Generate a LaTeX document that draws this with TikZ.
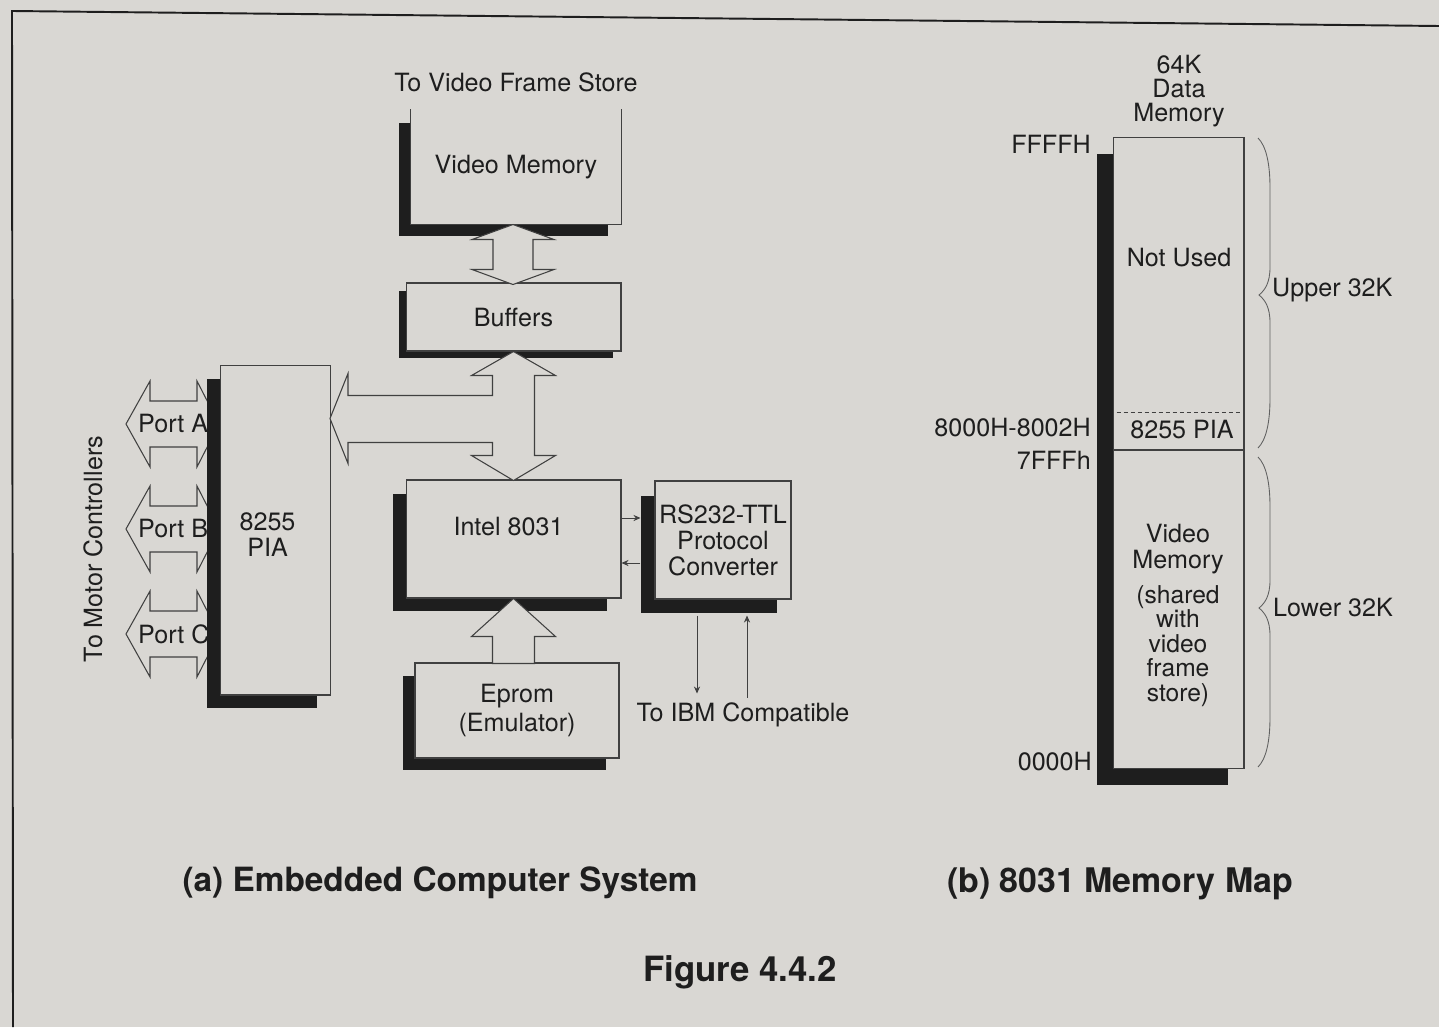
\documentclass[tikz,border=0pt]{standalone}
\usepackage{fontspec}
\setmainfont{TeX Gyre Heros}
\usetikzlibrary{arrows.meta,shadows}
\definecolor{paper}{RGB}{217,215,211}
\definecolor{ink}{RGB}{30,30,30}
\tikzset{
  box/.style={draw=ink!85,line width=0.6pt,fill=paper,inner sep=0pt,align=center,
    drop shadow={shadow xshift=-#1,shadow yshift=-#1,fill=ink,opacity=1}},
  bus/.style={draw=ink!85,line width=0.6pt,fill=paper,line join=miter},
  sig/.style={draw=ink!85,line width=0.5pt,-{Stealth[length=4pt,width=3.5pt]}},
  brace/.style={draw=ink!70,line width=0.5pt},
}

\begin{document}
\begin{tikzpicture}[x=0.02cm,y=-0.02cm,every node/.style={font=\fontsize{14.3}{14.8}\selectfont,text=ink,align=center}]
\fill[paper] (0,0) rectangle (1439,1027);
\useasboundingbox (0,0) rectangle (1439,1027);
\draw[ink,line width=1.1pt] (13,1027) -- (12,11) -- (1439,26);

% (a) ports to the motor controllers, under the PIA
\coordinate (piaw) at (220,530);
\foreach \dy/\p in {-106/A,-1/B,104/C}{
  \draw[bus] ([shift={(-1,\dy)}]piaw) -- ++(-22,43) -- ++(0,-20) -- ++(-47,0) -- ++(0,20) -- ++(-24,-43)
    -- ++(24,-43) -- ++(0,20) -- ++(47,0) -- ++(0,-20) -- cycle;
  \node[anchor=west] (port\p) at ([shift={(-88,\dy)}]piaw) {Port \p};
}
\node[rotate=90] (motor) at (93,549) {To Motor Controllers};
\node[box=0.27cm,minimum width=2.2cm,minimum height=6.6cm,anchor=west] (pia) at (piaw) {};
\node (pialbl) at ([shift={(-8,5)}]pia.center) {8255\\PIA};

% (a) boxes
\node (vfs) at (516,82) {To Video Frame Store};
\node[box=0.25cm,draw=none,minimum width=4.2cm,minimum height=2.28cm] (vm) at (516,167) {Video Memory};
\draw[ink!85,line width=0.6pt] (vm.north west) -- (vm.south west) -- (vm.south east) -- (vm.north east);
\node[box=0.15cm,minimum width=4.3cm,minimum height=1.36cm] (buf) at (513.5,317) {Buffers};
\node[box=0.27cm,minimum width=4.3cm,minimum height=2.36cm] (cpu) at (513.5,539) {};
\node (cpulab) at ([shift={(-5,-12)}]cpu.center) {Intel 8031};
\node[box=0.29cm,minimum width=2.72cm,minimum height=2.36cm] (conv) at (723,540) {RS232-TTL\\Protocol\\Converter};
\node[box=0.25cm,minimum width=4.08cm,minimum height=1.9cm,font=\fontsize{14.3}{16.4}\selectfont] (eprom) at (517,710.5) {Eprom\\(Emulator)};

% (a) buses
\draw[bus] ([xshift=-0.06cm]vm.south) -- ++(41,15) -- ++(-21,0) -- ++(0,30) -- ++(21,0) -- ++(-41,15)
  -- ++(-41,-15) -- ++(21,0) -- ++(0,-30) -- ++(-21,0) -- cycle;
\draw[bus] (buf.south) -- ++(42,24) -- ++(-21,0) -- ++(0,80) -- ++(21,0) -- ++(-42,25) -- ++(-42,-25)
  -- ++(21,0) -- ++(0,-13) -- ++(-144.5,0) -- ++(0,21) -- ++(-18,-45) -- ++(18,-45) -- ++(0,22)
  -- ++(144.5,0) -- ++(0,-20) -- ++(-21,0) -- cycle;
\draw[bus] (cpu.south) -- ++(42,38) -- ++(-21,0) -- ++(0,27) -- ++(-42,0) -- ++(0,-27) -- ++(-21,0) -- cycle;

% (a) serial lines
\draw[sig] ([shift={(0,-21)}]cpu.east) -- ([shift={(-14,-22)}]conv.west);
\draw[sig] ([shift={(-14,23)}]conv.west) -- ([shift={(0,24)}]cpu.east);
\draw[sig] ([shift={(-26,16)}]conv.south) -- ([shift={(-26,94)}]conv.south);
\draw[sig] ([shift={(24,98)}]conv.south) -- ([shift={(24,16)}]conv.south);
\node (ibm) at (743,715) {To IBM Compatible};

% (b) memory map
\node[font=\fontsize{14.3}{13.6}\selectfont] (memhead) at (1179,91) {64K\\Data\\Memory};
\node[box=0.33cm,minimum width=2.62cm,minimum height=12.64cm] (mem) at (1178.5,453) {};
\draw[ink!85,line width=0.5pt,dash pattern=on 2.4pt off 1.6pt] ([shift={(4,-41)}]mem.west) -- ([shift={(0,-41)}]mem.east);
\draw[ink!85,line width=0.6pt] ([shift={(0,-3)}]mem.west) -- ([shift={(0,-3)}]mem.east);
\node (notused) at (1179,258) {Not Used};
\node (pialab) at (1182,430) {8255 PIA};
\node (vidlab) at (1178,549) {Video\\Memory};
\node[font=\fontsize{14}{13.9}\selectfont] (sharedlab) at (1178,646) {(shared\\with\\video\\frame\\store)};
\node[anchor=east] (addrtop) at (1097,144) {FFFFH};
\node[anchor=east] (addrpia) at (1097,428) {8000H-8002H};
\node[anchor=east] (addrmid) at (1097,460) {7FFFh};
\node[anchor=east] (addrlow) at (1098,762) {0000H};
\foreach \t/\m/\b in {138/295/448,457/608/767}
  \draw[brace] (1258,\t) .. controls (1266,\t+8) and (1270,\t+25) .. (1270,\t+50) -- (1270,\m-28)
    .. controls (1270,\m-12) and (1265,\m-5) .. (1259,\m) .. controls (1265,\m+5) and (1270,\m+12) .. (1270,\m+28)
    -- (1270,\b-50) .. controls (1270,\b-25) and (1266,\b-8) .. (1258,\b);
\node[anchor=west] (upper) at (1266,290) {Upper 32K};
\node[anchor=west] (lower) at (1267,608) {Lower 32K};

% captions
\node[font=\bfseries\fontsize{19}{20}\selectfont] (capa) at (440,883) {(a) Embedded Computer System};
\node[font=\bfseries\fontsize{19.3}{20}\selectfont] (capb) at (1120,884) {(b) 8031 Memory Map};
\node[font=\bfseries\fontsize{19.8}{20}\selectfont] (fig) at (740,972) {Figure 4.4.2};
\end{tikzpicture}
\end{document}
